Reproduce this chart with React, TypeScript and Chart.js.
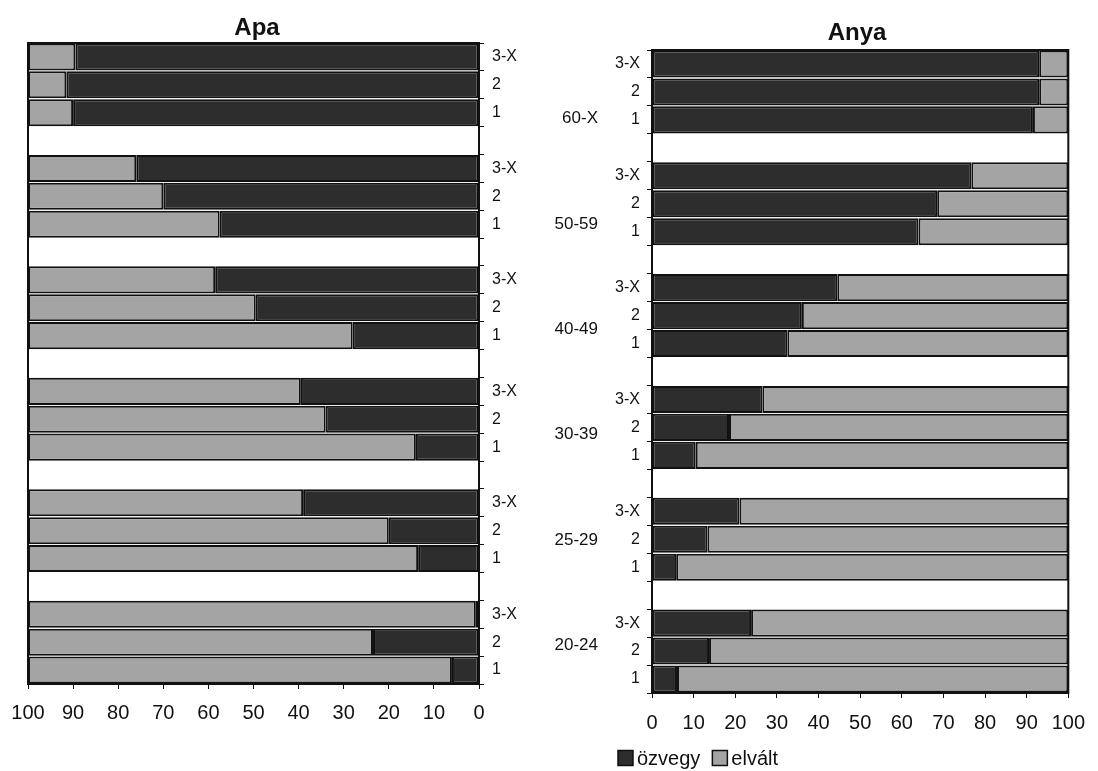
import React, { useEffect, useRef } from "react";
import { Chart, registerables } from "chart.js";

Chart.register(...registerables);

// ---- data ----
const groups = ["60-X", "50-59", "40-49", "30-39", "25-29", "20-24"];
const rows = ["3-X", "2", "1"];
const seriesNames = ["özvegy", "elvált"];
const xTickValues = [0, 10, 20, 30, 40, 50, 60, 70, 80, 90, 100];

// Apa (father) – per group: 3-X, 2, 1
const apaOzvegy = [89.5, 91.5, 90, 76, 70, 57.5, 58.5, 49.5, 28, 39.5, 34, 14, 39, 20, 13.5, 0.7, 23.5, 6];
const apaElvalt = [10.5, 8.5, 10, 24, 30, 42.5, 41.5, 50.5, 72, 60.5, 66, 86, 61, 80, 86.5, 99.3, 76.5, 94];

// Anya (mother) – per group: 3-X, 2, 1
const anyaOzvegy = [93, 93, 91.5, 76.7, 68.5, 64, 44.5, 36, 32.5, 26.5, 18.5, 10.5, 21, 13.3, 5.8, 23.8, 13.7, 6];
const anyaElvalt = [7, 7, 8.5, 23.3, 31.5, 36, 55.5, 64, 67.5, 73.5, 81.5, 89.5, 79, 86.7, 94.2, 76.2, 86.3, 94];

// ---- styling ----
const DARK = "#2d2d2d";
const GRAY = "#a4a4a4";
const INK = "#111111";
const FONT = "'Liberation Sans', Arial, Helvetica, sans-serif";

// categories with an empty slot between groups
const categories: string[] = [];
groups.forEach((g, gi) => {
  rows.forEach((r) => categories.push(r));
  if (gi < groups.length - 1) categories.push("");
});

function withGaps(values: number[]): (number | null)[] {
  const out: (number | null)[] = [];
  groups.forEach((g, gi) => {
    rows.forEach((r, ri) => out.push(values[gi * rows.length + ri]));
    if (gi < groups.length - 1) out.push(null);
  });
  return out;
}

function makeDatasets(ozvegy: number[], elvalt: number[]) {
  const common = {
    borderColor: INK,
    borderWidth: 2,
    borderSkipped: false as const,
    categoryPercentage: 1,
    barPercentage: 0.97,
  };
  return [
    { label: seriesNames[0], data: withGaps(ozvegy), backgroundColor: DARK, ...common },
    { label: seriesNames[1], data: withGaps(elvalt), backgroundColor: GRAY, ...common },
  ];
}

const framePlugin = {
  id: "frame",
  afterDatasetsDraw(chart: any) {
    const { ctx, chartArea: a } = chart;
    ctx.save();
    ctx.strokeStyle = INK;
    ctx.lineWidth = 2;
    ctx.strokeRect(a.left, a.top, a.right - a.left, a.bottom - a.top);
    ctx.restore();
  },
};

function titlePlugin(text: string, x: number, y: number) {
  return {
    id: "panelTitle",
    afterDraw(chart: any) {
      const ctx = chart.ctx;
      ctx.save();
      ctx.font = `bold 24px ${FONT}`;
      ctx.fillStyle = INK;
      ctx.textAlign = "center";
      ctx.textBaseline = "middle";
      ctx.fillText(text, x, y);
      ctx.restore();
    },
  };
}

const groupLabelPlugin = {
  id: "groupLabels",
  afterDraw(chart: any) {
    const ctx = chart.ctx;
    const y = chart.scales.y;
    const first = y.getPixelForValue(1.95);
    const last = y.getPixelForValue(20.8);
    ctx.save();
    ctx.font = `17px ${FONT}`;
    ctx.fillStyle = INK;
    ctx.textAlign = "right";
    ctx.textBaseline = "middle";
    groups.forEach((g, i) => {
      const py = first + ((last - first) * i) / (groups.length - 1);
      ctx.fillText(g, 49, py);
    });
    ctx.restore();
  },
};

const legendPlugin = {
  id: "bottomLegend",
  afterDraw(chart: any) {
    const ctx = chart.ctx;
    const colors = [DARK, GRAY];
    let x = 69;
    const yc = 758;
    const box = 15;
    ctx.save();
    ctx.font = `20px ${FONT}`;
    ctx.textBaseline = "middle";
    ctx.textAlign = "left";
    seriesNames.forEach((name, i) => {
      ctx.fillStyle = colors[i];
      ctx.fillRect(x, yc - box / 2, box, box);
      ctx.strokeStyle = INK;
      ctx.lineWidth = 1.5;
      ctx.strokeRect(x, yc - box / 2, box, box);
      x += box + 4;
      ctx.fillStyle = INK;
      ctx.fillText(name, x, yc + 1);
      x += ctx.measureText(name).width + 12;
    });
    ctx.restore();
  },
};

function buildConfig(side: "apa" | "anya"): any {
  const isApa = side === "apa";
  return {
    type: "bar",
    data: {
      labels: categories,
      datasets: isApa ? makeDatasets(apaOzvegy, apaElvalt) : makeDatasets(anyaOzvegy, anyaElvalt),
    },
    options: {
      indexAxis: "y",
      animation: false,
      responsive: false,
      devicePixelRatio: 1,
      layout: {
        padding: isApa ? { left: 28, right: 0, top: 43, bottom: 0 } : { left: 0, right: 20, top: 50, bottom: 0 },
      },
      plugins: {
        legend: { display: false },
        tooltip: { enabled: false },
        title: { display: false },
      },
      scales: {
        x: {
          type: "linear",
          stacked: true,
          reverse: isApa,
          min: 0,
          max: 100,
          afterBuildTicks: (s: any) => {
            s.ticks = xTickValues.map((v) => ({ value: v }));
          },
          ticks: {
            font: { family: FONT, size: 20 },
            color: INK,
            padding: isApa ? 12 : 13,
            maxRotation: 0,
            autoSkip: false,
          },
          grid: { display: true, drawOnChartArea: false, drawTicks: true, tickLength: 5, color: INK, lineWidth: 1 },
          border: { display: false },
          afterFit: (s: any) => {
            s.height = isApa ? 87 : 78;
          },
        },
        y: {
          type: "category",
          position: isApa ? "right" : "left",
          stacked: true,
          ticks: {
            font: { family: FONT, size: 16 },
            color: INK,
            padding: isApa ? 8 : 7,
            autoSkip: false,
          },
          grid: { display: true, offset: true, drawOnChartArea: false, drawTicks: true, tickLength: 5, color: INK, lineWidth: 1 },
          border: { display: false },
          afterFit: (s: any) => {
            s.width = isApa ? 70 : 103;
          },
        },
      },
    },
    plugins: isApa
      ? [framePlugin, titlePlugin("Apa", 257, 28)]
      : [framePlugin, titlePlugin("Anya", 308, 33), groupLabelPlugin, legendPlugin],
  };
}

function Panel({ side, left }: { side: "apa" | "anya"; left: number }) {
  const ref = useRef<HTMLCanvasElement | null>(null);
  useEffect(() => {
    if (!ref.current) return;
    const chart = new Chart(ref.current, buildConfig(side));
    return () => chart.destroy();
  }, [side]);
  return (
    <canvas
      ref={ref}
      width={549}
      height={771}
      style={{ position: "absolute", left, top: 0, width: 549, height: 771, display: "block" }}
    />
  );
}

export default function App() {
  return (
    <div style={{ position: "absolute", left: 0, top: 0, width: 1098, height: 771, background: "#ffffff", overflow: "hidden" }}>
      <Panel side="apa" left={0} />
      <Panel side="anya" left={549} />
    </div>
  );
}
